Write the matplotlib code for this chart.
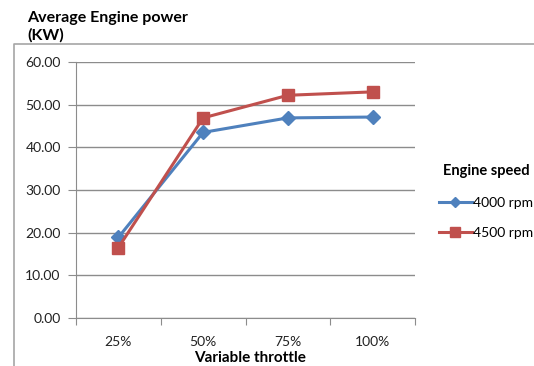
import matplotlib
matplotlib.use("Agg")
import matplotlib.pyplot as plt
from matplotlib.lines import Line2D

plt.rcParams['font.family'] = ['Lato', 'DejaVu Sans']

# throttle positions and average engine power (kW)
throttle = ['25%', '50%', '75%', '100%']
power_4000 = [18.9, 43.5, 46.9, 47.1]
power_4500 = [16.5, 46.9, 52.2, 53.0]
series_names = ['4000 rpm', '4500 rpm']
yticks = [0, 10, 20, 30, 40, 50, 60]

W, H = 534, 366
fig = plt.figure(figsize=(W / 100, H / 100), dpi=100)
ax = fig.add_axes([76 / W, 1 - 318 / H, (415 - 76) / W, (318 - 62) / H])

pos = list(range(1, len(throttle) + 1))
ax.plot(pos, power_4000, color='#4F81BD', lw=2.2, marker='D', ms=7,
        label=series_names[0], zorder=3)
ax.plot(pos, power_4500, color='#C0504D', lw=2.2, marker='s', ms=8.5,
        label=series_names[1], zorder=3)

ax.set_xlim(0.5, len(throttle) + 0.5)
ax.set_ylim(0, 60)
ax.set_yticks(yticks)
ax.set_yticklabels([f'{v:.2f}' for v in yticks], fontsize=10, color='#222222')
ax.yaxis.grid(True, color='#8C8C8C', lw=1)
ax.set_axisbelow(True)

# category labels between the tick marks
ax.set_xticks([p - 0.5 for p in pos] + [pos[-1] + 0.5])
ax.set_xticklabels([])
ax.set_xticks(pos, minor=True)
ax.set_xticklabels(throttle, minor=True, fontsize=10, color='#222222')
ax.tick_params(axis='x', which='major', length=5, color='#8C8C8C', direction='out')
ax.tick_params(axis='x', which='minor', length=0, pad=13)
ax.tick_params(axis='y', length=6, color='#8C8C8C', pad=5)

for side in ['top', 'right']:
    ax.spines[side].set_visible(False)
for side in ['left', 'bottom']:
    ax.spines[side].set_color('#8C8C8C')

fig.text(27 / W, 1 - 22 / H, 'Average Engine power', fontsize=11.5,
         fontweight='bold', ha='left', va='baseline')
fig.text(27 / W, 1 - 40 / H, '(KW)', fontsize=11.5,
         fontweight='bold', ha='left', va='baseline')
fig.text(250 / W, 1 - 365 / H, 'Variable throttle', fontsize=11,
         fontweight='bold', ha='center', va='bottom')

leg = ax.legend(loc='upper left', bbox_to_anchor=(426 / W, 1 - 152 / H),
                bbox_transform=fig.transFigure, frameon=False,
                title='Engine speed', fontsize=10, handlelength=2.4,
                handletextpad=0.1, labelspacing=1.3, markerscale=0.8,
                title_fontproperties={'weight': 'bold', 'size': 10.5})

# outer chart frame
fig.add_artist(Line2D([14 / W, 14 / W, 1], [0, 1 - 44 / H, 1 - 44 / H],
                      transform=fig.transFigure, color='#A6A6A6', lw=1.2))

fig.savefig('out.png', dpi=100)
